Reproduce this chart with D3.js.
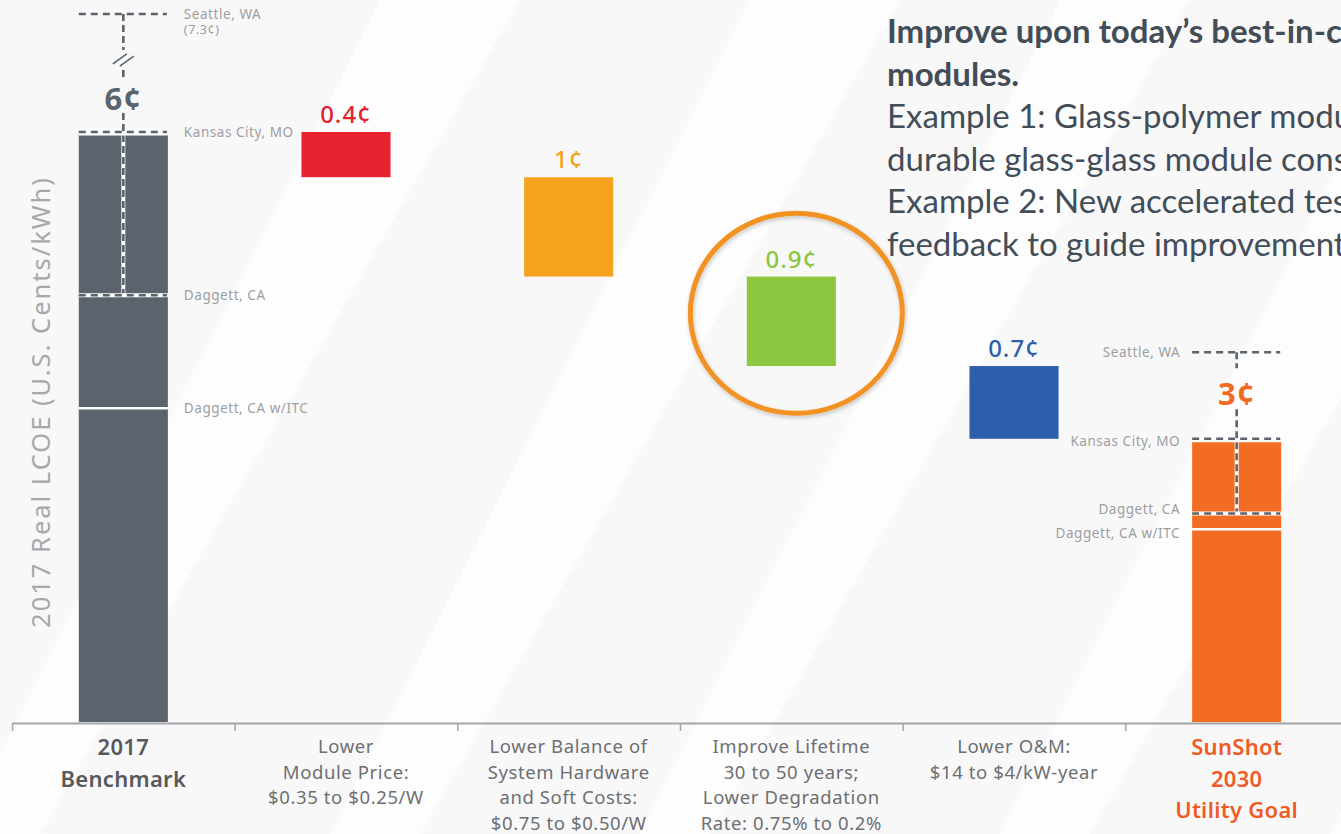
<!DOCTYPE html>
<html>
<head>
<meta charset="utf-8">
<script src="https://cdn.jsdelivr.net/npm/d3@7/dist/d3.min.js"></script>
<style>
  html, body { margin: 0; padding: 0; background: #f9f9fa; overflow: hidden; }
  svg { display: block; }
</style>
</head>
<body>
<svg id="chart" width="1341" height="834"></svg>
<script>
// ---------------- DATA ----------------
const categories = ["2017 Benchmark", "Lower Module Price", "Lower BOS and Soft Costs", "Improve Lifetime", "Lower O&M", "SunShot 2030 Utility Goal"];
const categoryLines = [
  ["2017", "Benchmark"],
  ["Lower", "Module Price:", "$0.35 to $0.25/W"],
  ["Lower Balance of", "System Hardware", "and Soft Costs:", "$0.75 to $0.50/W"],
  ["Improve Lifetime", "30 to 50 years;", "Lower Degradation", "Rate: 0.75% to 0.2%"],
  ["Lower O&M:", "$14 to $4/kW-year"],
  ["SunShot", "2030", "Utility Goal"]
];
const benchmarkValue = 6.0;
const stepValues = [0.46, 1.01, 0.91, 0.74];   // bar heights as drawn
const valueLabels = ["6¢", "0.4¢", "1¢", "0.9¢", "0.7¢", "3¢"];
const barColors = ["#5b646c", "#e8232f", "#f7a21f", "#8dc63f", "#2c5eab", "#f26c23"];
const labelColors = ["#5b646c", "#e4202e", "#f5a11c", "#8cc63e", "#2e5faa", "#f26a22"];
const benchmarkMarkerNames = [["Seattle, WA", "(7.3¢)"], ["Kansas City, MO"], ["Daggett, CA"], ["Daggett, CA w/ITC"]];
const benchmarkMarkerValues = [7.2, 6.0, 4.34, 3.19];   // Seattle drawn above axis break
const goalMarkerNames = [["Seattle, WA"], ["Kansas City, MO"], ["Daggett, CA"], ["Daggett, CA w/ITC"]];
const goalMarkerValues = [3.76, 2.88, 2.12, 1.96];
const markerStyles = ["dash", "edge", "inner", "solid"];
const yAxisTitle = "2017 Real LCOE (U.S. Cents/kWh)";
const sideTextBold = ["Improve upon today’s best-in-class", "modules."];
const sideTextLines = ["Example 1: Glass-polymer modules", "durable glass-glass module construction", "Example 2: New accelerated tests", "feedback to guide improvements"];

// ---------------- SETUP ----------------
const W = 1341, H = 834;
const svg = d3.select("#chart");
const GOTHAM = "'Noto Sans', 'Open Sans', sans-serif";
const DARK = "#5b646c";

const x = d3.scaleBand().domain(categories).range([12, 1348]).paddingInner(0.6).paddingOuter(0.3);
const xb = d3.scaleLinear().domain([0, categories.length]).range([12, 1348]);
const y = d3.scaleLinear().domain([0, benchmarkValue]).range([722, 132]);

// background stripes
const bg = svg.append("g");
bg.append("rect").attr("width", W).attr("height", H).attr("fill", "#f8f8f9");
const stripeStarts = [-40, 330, 640, 1000, 1330];
const stripeWidths = [80, 90, 70, 90, 70];
stripeStarts.forEach((s, i) => {
  const w = stripeWidths[i];
  const dx = 420;
  bg.append("polygon")
    .attr("points", `${s},${H} ${s + w},${H} ${s + w + dx + 60},0 ${s + dx},0`)
    .attr("fill", "#ffffff").attr("opacity", 0.7);
});

// ---------------- BARS ----------------
const bars = [];
let level = benchmarkValue;
bars.push({ cat: categories[0], top: benchmarkValue, bottom: 0 });
stepValues.forEach((v, i) => {
  bars.push({ cat: categories[i + 1], top: level, bottom: level - v });
  level -= v;
});
bars.push({ cat: categories[5], top: level, bottom: 0 });

svg.append("g").selectAll("rect").data(bars).join("rect")
  .attr("x", d => x(d.cat))
  .attr("width", x.bandwidth())
  .attr("y", d => y(d.top))
  .attr("height", d => y(d.bottom) - y(d.top))
  .attr("fill", (d, i) => barColors[i]);

// ---------------- MARKERS ----------------
function drawMarkers(cat, values, names, side, segs) {
  const g = svg.append("g");
  const x0 = x(cat), x1 = x(cat) + x.bandwidth(), cx = x0 + x.bandwidth() / 2;
  const ys = values.map(v => y(v));
  const barTop = ys[1];
  g.append("line").attr("x1", cx).attr("x2", cx).attr("y1", barTop).attr("y2", ys[2])
    .attr("stroke", "#fff").attr("stroke-width", 4);
  segs.forEach(s => {
    g.append("line").attr("x1", cx).attr("x2", cx).attr("y1", s[0]).attr("y2", s[1])
      .attr("stroke", DARK).attr("stroke-width", 2.6).attr("stroke-dasharray", "7,4");
  });
  values.forEach((v, i) => {
    const yy = y(v), st = markerStyles[i];
    if (st === "edge" || st === "inner") {
      g.append("line").attr("x1", x0).attr("x2", x1).attr("y1", yy + (st === "edge" ? 1.5 : 0)).attr("y2", yy + (st === "edge" ? 1.5 : 0))
        .attr("stroke", "#fff").attr("stroke-width", 4);
    }
    if (st === "solid") {
      g.append("line").attr("x1", x0).attr("x2", x1).attr("y1", yy).attr("y2", yy)
        .attr("stroke", "#fff").attr("stroke-width", 2.5);
    } else {
      g.append("line").attr("x1", x0).attr("x2", x1 - 1).attr("y1", yy).attr("y2", yy)
        .attr("stroke", DARK).attr("stroke-width", 2.6).attr("stroke-dasharray", "7,5");
    }
    const tx = side === "right" ? x1 + 16 : x0 - 12;
    const offs = side === "right" ? [0, 0, 0, 0] : [0, 2, -5, 4];
    names[i].forEach((n, k) => {
      g.append("text")
        .attr("x", tx).attr("y", yy + offs[i] + 5 + k * 15)
        .attr("text-anchor", side === "right" ? "start" : "end")
        .attr("font-family", GOTHAM).attr("font-size", k === 0 ? 13.5 : 12.5).attr("letter-spacing", 0.55)
        .attr("fill", "#9c9ea1").text(n);
    });
  });
  return g;
}

const bmCat = categories[0], goalCat = categories[5];
const bmTopY = y(benchmarkMarkerValues[0]);
const g1 = drawMarkers(bmCat, benchmarkMarkerValues, benchmarkMarkerNames, "right",
  [[bmTopY, bmTopY + 36], [bmTopY + 56, bmTopY + 66], [y(benchmarkValue) - 19, y(benchmarkMarkerValues[2])]]);
const bcx = x(bmCat) + x.bandwidth() / 2;
[-3.5, 3.5].forEach(o => {
  g1.append("line")
    .attr("x1", bcx - 7 + o).attr("y1", bmTopY + 51 + o * 0.3)
    .attr("x2", bcx + 7 + o).attr("y2", bmTopY + 41 + o * 0.3)
    .attr("stroke", DARK).attr("stroke-width", 1.6);
});
const gTopY = y(goalMarkerValues[0]);
drawMarkers(goalCat, goalMarkerValues, goalMarkerNames, "left",
  [[gTopY, gTopY + 16], [gTopY + 57, y(goalMarkerValues[2])]]);

// ---------------- VALUE LABELS ----------------
const vl = svg.append("g").attr("text-anchor", "middle").attr("font-family", GOTHAM);
bars.forEach((d, i) => {
  const cx = x(d.cat) + x.bandwidth() / 2;
  let yy, fs, fw;
  if (i === 0) { yy = y(d.top) - 22; fs = 31; fw = 700; }
  else if (i === 5) { yy = y(goalMarkerValues[0]) + 53; fs = 31; fw = 700; }
  else { yy = y(d.top) - 9; fs = 24; fw = 500; }
  vl.append("text").attr("x", cx).attr("y", yy)
    .attr("font-size", fs).attr("font-weight", fw).attr("letter-spacing", 1)
    .attr("fill", labelColors[i]).text(valueLabels[i]);
});

// ---------------- AXIS ----------------
const axisG = svg.append("g").attr("transform", `translate(0,${y(0) + 1})`)
  .call(d3.axisBottom(xb).tickValues(d3.range(0, categories.length)).tickFormat("").tickSizeInner(8).tickSizeOuter(0));
axisG.select(".domain").attr("stroke", "#a3a5a8").attr("stroke-width", 2);
axisG.selectAll(".tick line").attr("stroke", "#a3a5a8").attr("stroke-width", 1.5);

const cl = svg.append("g").attr("text-anchor", "middle").attr("font-family", GOTHAM);
categories.forEach((c, i) => {
  const cx = x(c) + x.bandwidth() / 2;
  const special = (i === 0 || i === 5);
  const t = cl.append("text")
    .attr("x", cx).attr("y", special ? 755 : 753)
    .attr("font-size", special ? 22 : 18.5)
    .attr("font-weight", special ? 600 : 400)
    .attr("letter-spacing", special ? 0.3 : 0.6)
    .attr("fill", i === 0 ? "#58595b" : (i === 5 ? "#f05a24" : "#6d6f72"));
  categoryLines[i].forEach((ln, k) => {
    t.append("tspan").attr("x", cx).attr("dy", k === 0 ? 0 : (special ? 31.5 : 25.5)).text(ln);
  });
});

svg.append("text")
  .attr("transform", `translate(50,${(y(0) + y(benchmarkValue)) / 2 - 25}) rotate(-90)`)
  .attr("text-anchor", "middle").attr("font-family", GOTHAM)
  .attr("font-size", 25.5).attr("letter-spacing", 2.0).attr("fill", "#a6a8ab")
  .text(yAxisTitle);

// ---------------- HIGHLIGHT CIRCLE ----------------
const defs = svg.append("defs");
const f = defs.append("filter").attr("id", "shadow").attr("x", "-20%").attr("y", "-20%").attr("width", "140%").attr("height", "140%");
f.append("feDropShadow").attr("dx", 1).attr("dy", 2).attr("stdDeviation", 2).attr("flood-color", "#000").attr("flood-opacity", 0.22);
const hl = bars[3];
svg.append("ellipse")
  .attr("cx", x(hl.cat) + x.bandwidth() / 2 + 5)
  .attr("cy", (y(hl.top) + y(hl.bottom)) / 2 - 8)
  .attr("rx", 106).attr("ry", 100)
  .attr("fill", "none").attr("stroke", "#f29222").attr("stroke-width", 5)
  .attr("filter", "url(#shadow)");

// ---------------- SIDE TEXT ----------------
const st = svg.append("text").attr("font-family", "Lato, 'Open Sans', sans-serif").attr("font-size", 33).attr("fill", "#424d58");
const lines = sideTextBold.map(s => ({ s, b: true })).concat(sideTextLines.map(s => ({ s, b: false })));
lines.forEach((l, k) => {
  st.append("tspan").attr("x", 887).attr("y", 43 + k * 42.5)
    .attr("font-weight", l.b ? 700 : 400).text(l.s);
});
</script>
</body>
</html>
